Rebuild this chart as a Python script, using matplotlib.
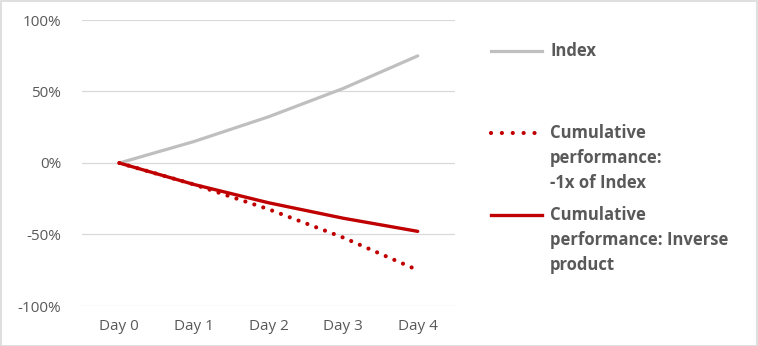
import matplotlib.pyplot as plt
from matplotlib.lines import Line2D
from matplotlib.patches import Rectangle
from matplotlib.ticker import FuncFormatter

days = ["Day 0", "Day 1", "Day 2", "Day 3", "Day 4"]
index_perf = [0, 15, 32.3, 52.1, 74.9]
minus_1x = [0, -15, -32.3, -52.1, -74.9]
inverse_perf = [0, -15, -27.8, -38.6, -47.8]

grey = "#BFBFBF"
red = "#C00000"
txt = "#595959"
plt.rcParams['font.family'] = ['Open Sans', 'DejaVu Sans']

W, H = 758, 346
fig = plt.figure(figsize=(W / 100, H / 100), dpi=100)
ax = fig.add_axes([82 / W, 1 - 306 / H, (455 - 82) / W, (306 - 20) / H])

dotted = dict(color=red, lw=3.0, linestyle=(0, (0.01, 2.25)), dash_capstyle='round')

x = list(range(len(days)))
ax.plot(x, index_perf, color=grey, lw=2.3, solid_capstyle='round')
ax.plot(x, minus_1x, **dotted)
ax.plot(x, inverse_perf, color=red, lw=2.4, solid_capstyle='round')

ax.set_xlim(-0.5, len(days) - 0.5)
ax.set_ylim(-100, 100)
ax.set_yticks([-100, -50, 0, 50, 100])
ax.yaxis.set_major_formatter(FuncFormatter(lambda v, p: f"{v:.0f}%"))
ax.set_xticks(x)
ax.set_xticklabels(days)
ax.grid(axis='y', color="#D9D9D9", lw=0.9)
ax.set_axisbelow(True)
for s in ax.spines.values():
    s.set_visible(False)
ax.tick_params(length=0, labelsize=11, colors=txt, pad=9)
ax.tick_params(axis='y', pad=15)

# legend, drawn by hand to keep Excel's layout
def fx(px):
    return px / W

def fy(py):
    return 1 - py / H

entries = [
    (51, dict(color=grey, lw=2.3), ["Index"]),
    (133, dict(dotted, linestyle=(0, (0.01, 2.6))),
     ["Cumulative", "performance:", "-1x of Index"]),
    (215, dict(color=red, lw=2.4), ["Cumulative", "performance: Inverse", "product"]),
]
for y0, style, lines in entries:
    fig.add_artist(Line2D([fx(491), fx(542)], [fy(y0), fy(y0)], **style))
    for i, s in enumerate(lines):
        fig.text(fx(550), fy(y0 + 25 * i), s, fontsize=12, fontweight='bold',
                 color=txt, va='center', ha='left')

fig.add_artist(Rectangle((0.5 / W, 0.5 / H), 1 - 1.5 / W, 1 - 1.5 / H,
                         transform=fig.transFigure, fill=False, ec="#D9D9D9", lw=1.2))

fig.savefig("out.png", dpi=100)
